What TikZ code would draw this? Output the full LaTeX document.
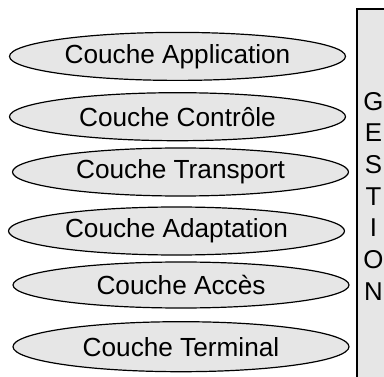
\documentclass[tikz,border=0pt]{standalone}
\usepackage{fontspec}
\setmainfont{Liberation Sans}
\usetikzlibrary{shapes.geometric}
\definecolor{layerfill}{HTML}{E6E6E6}
\tikzset{
  layer/.style={ellipse, draw=black, line width=1.2pt, fill=layerfill,
    minimum width=336pt, minimum height=48pt, inner sep=0pt,
    font=\fontsize{26.2}{30}\selectfont},
  mgmtbox/.style={draw=black, line width=1.5pt, fill=layerfill}
}
\begin{document}
\begin{tikzpicture}[x=1pt,y=1pt]
  \useasboundingbox (0,0) rectangle (384,376);
  \clip (0,0) rectangle (384,376);
  % management column, running past the right and bottom edges
  \path[mgmtbox] (357,-10) -- (357,367) -- (400,367);
  \fill[layerfill] (357.75,-10) rectangle (400,366.25);
  \node[align=center, font=\fontsize{25.8}{31.7}\selectfont] (gestion)
    at (373.5,179.8) {G\\E\\S\\T\\I\\O\\N};
  % protocol layers
  \node[layer] (app)   at (177.5,319.6) {Couche Application};
  \node[layer] (ctrl)  at (177.5,259.3) {Couche Contrôle};
  \node[layer] (trans) at (180.5,204)   {Couche Transport};
  \node[layer] (adapt) at (176.5,145)   {Couche Adaptation};
  \node[layer, minimum height=46pt] (acces) at (181,91) {Couche Accès};
  \node[layer, minimum height=50pt] (term)  at (181,29.3) {Couche Terminal};
\end{tikzpicture}
\end{document}
